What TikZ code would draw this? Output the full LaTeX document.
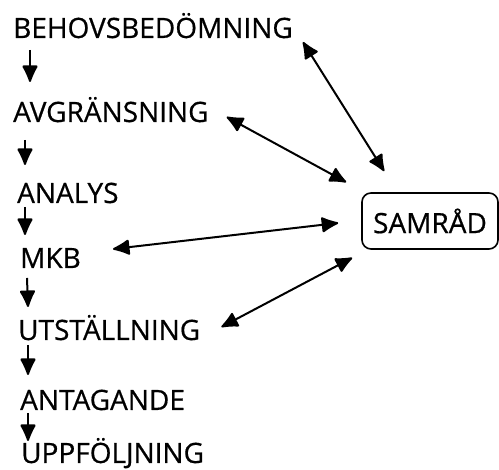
\documentclass[tikz,border=0pt]{standalone}
\usepackage{fontspec}
\setmainfont{Open Sans}[FakeBold=0.6]
\usetikzlibrary{arrows.meta,calc}
\tikzset{
  headtip/.tip={Latex[length=19pt,width=17pt,round=false]}}
\begin{document}
\begin{tikzpicture}[x=1pt,y=1pt,
  stage/.style={anchor=base west,inner sep=0pt,font=\fontsize{28}{30}\selectfont},
  flow/.style={line width=2pt,-headtip},
  link/.style={line width=2pt,headtip-headtip},
  hub/.style={draw,line width=1.6pt,rounded corners=9pt,minimum width=136pt,minimum height=56pt,inner sep=0pt,font=\fontsize{28}{30}\selectfont}]
\useasboundingbox (0,0) rectangle (499,470);
\node[stage] (beh) at (13,432) {BEHOVSBEDÖMNING};
\node[stage] (avg) at (13,348) {AVGRÄNSNING};
\node[stage] (ana) at (17,267) {ANALYS};
\node[stage] (mkb) at (20,202) {MKB};
\node[stage] (uts) at (18,130) {UTSTÄLLNING};
\node[stage] (ant) at (20,60) {ANTAGANDE};
\node[stage] (upp) at (21,7) {UPPFÖLJNING};
\node[hub] (sam) at (430,249) {SAMRÅD};
% flow arrows
\draw[flow] ($(beh.base west)+(17,-12)$) -- ($(avg.base west)+(17,40)$);
\draw[flow] ($(avg.base west)+(12,-18)$) -- ($(ana.base west)+(8,38)$);
\draw[flow] ($(ana.base west)+(8,-4)$) -- ($(mkb.base west)+(5,33)$);
\draw[flow] ($(mkb.base west)+(7,-10)$) -- ($(uts.base west)+(10,33)$);
\draw[flow] ($(uts.base west)+(10,-5)$) -- ($(ant.base west)+(8,35)$);
\draw[flow] ($(ant.base west)+(8,-3)$) -- ($(upp.base west)+(7,22)$);
% links to SAMRAD
\draw[link] ($(beh.base east)+(10,-4)$) -- ($(sam.north west)+(23,21)$);
\draw[link] ($(avg.base east)+(18,5)$) -- ($(sam.north west)+(-15,10)$);
\draw[link] ($(mkb.base east)+(32,19)$) -- ($(sam.west)+(-23,-2)$);
\draw[link] ($(uts.base east)+(21,13)$) -- ($(sam.south west)+(-9,-8)$);
\end{tikzpicture}
\end{document}
